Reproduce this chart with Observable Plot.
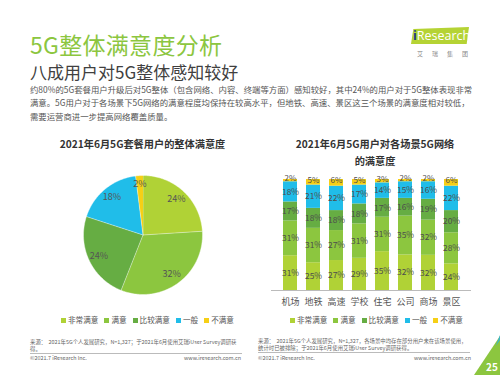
<!DOCTYPE html>
<html><head><meta charset="utf-8">
<script src="https://cdn.jsdelivr.net/npm/d3@7"></script>
<script src="https://cdn.jsdelivr.net/npm/@observablehq/plot@0.6"></script>
<style>
body{margin:0;width:500px;height:375px;background:#fff;position:relative;overflow:hidden;font-family:"Noto Sans CJK SC","Noto Sans",sans-serif;}
.abs{position:absolute;white-space:nowrap;}
.title{left:30px;top:27px;font-size:23px;color:#8cc63f;letter-spacing:0.3px;}
.sub{left:30px;top:59px;font-size:17px;color:#404040;}
.para{left:30px;top:83px;font-size:8.4px;line-height:13.3px;color:#555;}
.ctitle{font-size:10.2px;font-weight:bold;color:#333;text-align:center;line-height:17px;}
.legend{display:flex;gap:6px;font-size:7.6px;color:#555;align-items:center;top:314px;}
.legend span.sw{display:inline-block;width:5px;height:5px;margin-right:2px;vertical-align:middle;}
.foot{font-size:5.4px;color:#666;line-height:7px;}
.line{height:0;border-top:0.6px solid #bbb;}
</style></head>
<body>
<div class="abs title">5G整体满意度分析</div>
<div class="abs sub">八成用户对5G整体感知较好</div>
<div class="abs para">约80%的5G套餐用户升级后对5G整体（包含网络、内容、终端等方面）感知较好，其中24%的用户对于5G整体表现非常<br>满意。5G用户对于各场景下5G网络的满意程度均保持在较高水平，但地铁、高速、景区这三个场景的满意度相对较低，<br>需要运营商进一步提高网络覆盖质量。</div>

<div class="abs" style="left:411px;top:27px;width:58px;height:17px;background:#b5d334;clip-path:polygon(4% 12%,100% 0,96% 100%,0 100%);"></div>
<div class="abs" style="left:413px;top:27px;font-size:12.5px;color:#fff;font-family:'Open Sans',sans-serif;"><span style="color:#1f3a8a;font-weight:bold">i</span>Research</div>
<div class="abs" style="left:417px;top:49px;font-size:6px;color:#888;letter-spacing:9px;">艾瑞集团</div>

<div class="abs ctitle" style="left:40px;top:135px;width:205px;">2021年6月5G套餐用户的整体满意度</div>
<div class="abs ctitle" style="left:270px;top:135px;width:210px;">2021年6月5G用户对各场景5G网络<br>的满意度</div>

<div id="pie" class="abs" style="left:81px;top:172.5px;"></div>
<div id="bars" class="abs" style="left:270px;top:169px;"></div>

<div id="leg1" class="abs legend" style="left:61px;"></div>
<div id="leg2" class="abs legend" style="left:290px;"></div>

<div class="abs foot" style="left:30px;top:339px;">来源：&nbsp; 2021年5G个人发展研究，N=1,327；于2021年6月使用艾瑞iUser Survey调研获<br>得。</div>
<div class="abs line" style="left:30px;top:353px;width:212px;"></div>
<div class="abs foot" style="left:30px;top:355px;">©2021.7 iResearch Inc.</div>
<div class="abs foot" style="left:184px;top:355px;">www.iresearch.com.cn</div>

<div class="abs foot" style="left:258px;top:338px;">来源：&nbsp; 2021年5G个人发展研究，N=1,327，各场景中均存在部分用户未在该场景使用，<br>统计时已被排除；于2021年6月使用艾瑞iUser Survey调研获得。</div>
<div class="abs line" style="left:258px;top:352px;width:212px;"></div>
<div class="abs foot" style="left:258px;top:355px;">©2021.7 iResearch Inc.</div>
<div class="abs foot" style="left:414px;top:355px;">www.iresearch.com.cn</div>

<div class="abs" style="left:474px;top:336px;width:26px;height:39px;background:#8cc63f;clip-path:polygon(100% 0,100% 100%,0 100%);"></div>
<div class="abs" style="left:478px;top:330px;width:22px;height:20px;background:#3bb4c8;clip-path:polygon(100% 25%,100% 50%,80% 80%);"></div>
<div class="abs" style="left:486px;top:359px;font-size:10px;color:#fff;font-weight:bold;">25</div>

<script>
const levels = ["非常满意","满意","比较满意","一般","不满意"];
const colors = ["#b0d236","#8cc63f","#66ad43","#20bde9","#f6cf16"];

// Pie: overall satisfaction (%)
const pieValues = [24, 32, 24, 18, 2];

// Bars: scenarios
const scenes = ["机场","地铁","高速","学校","住宅","公司","商场","景区"];
const veryS   = [31, 25, 27, 29, 35, 32, 32, 24];
const sat     = [31, 31, 27, 31, 31, 35, 32, 28];
const fairly  = [17, 18, 18, 18, 17, 16, 19, 20];
const normal  = [18, 21, 22, 17, 14, 15, 16, 22];
const unsat   = [2, 5, 6, 5, 3, 2, 2, 6];
const series = [veryS, sat, fairly, normal, unsat];

const color = {domain: levels, range: colors};

// ---- Pie ----
const pie = d3.pie().sort(null).startAngle(0).endAngle(2*Math.PI)(pieValues);
const piePts = [];
const pieLabels = [];
pie.forEach((s, i) => {
  piePts.push({level: levels[i], x: 0, y: 0});
  const n = Math.max(2, Math.ceil((s.endAngle - s.startAngle) / 0.02));
  for (let k = 0; k <= n; k++) {
    const a = s.startAngle + (s.endAngle - s.startAngle) * k / n;
    piePts.push({level: levels[i], x: Math.sin(a), y: Math.cos(a)});
  }
  const m = (s.startAngle + s.endAngle) / 2;
  const r = i === 4 ? 0.85 : 0.82;
  pieLabels.push({x: r*Math.sin(m), y: r*Math.cos(m), text: pieValues[i] + "%"});
});
const R = 59.5, pm = 2;
document.getElementById("pie").append(Plot.plot({
  width: 2*R + 2*pm, height: 2*R + 2*pm,
  margin: pm,
  x: {domain: [-1, 1], axis: null},
  y: {domain: [-1, 1], axis: null},
  color,
  style: {background: "transparent", fontFamily: "'Noto Sans CJK SC', sans-serif"},
  marks: [
    Plot.line(piePts, {x: "x", y: "y", z: "level", fill: "level", stroke: "#fff", strokeWidth: 0.4, curve: "linear"}),
    Plot.text(pieLabels, {x: "x", y: "y", text: "text", fill: "#555", fontSize: 9})
  ]
}));

// ---- Bars ----
const barData = [];
levels.forEach((lv, i) => scenes.forEach((sc, j) => barData.push({scene: sc, level: lv, value: series[i][j]})));
const stackOpts = {x: "scene", y: "value", z: "level", order: levels, offset: "normalize"};
const topLevel = "不满意";
document.getElementById("bars").append(Plot.plot({
  width: 205, height: 141,
  marginLeft: 1, marginRight: 4, marginTop: 10, marginBottom: 20,
  x: {domain: scenes, padding: 0.37, label: null, tickSize: 0, tickPadding: 8},
  y: {axis: null},
  color,
  style: {background: "transparent", fontSize: "9px", color: "#555", fontFamily: "'Noto Sans CJK SC', sans-serif", overflow: "visible"},
  marks: [
    Plot.barY(barData, Plot.stackY({...stackOpts, fill: "level"})),
    Plot.text(barData, Plot.stackY({...stackOpts, text: d => d.level !== topLevel ? d.value + "%" : "", fill: "#4d4d4d", fontSize: 8.4})),
    Plot.text(barData, Plot.stackY({...stackOpts, text: d => d.level === topLevel ? d.value + "%" : "", fill: "#4d4d4d", fontSize: 8, dy: -2})),
    Plot.ruleY([0], {stroke: "#bbb"})
  ]
}));

// ---- Legends ----
function legend(id) {
  const el = document.getElementById(id);
  levels.forEach((lv, i) => {
    const d = document.createElement("div");
    d.innerHTML = `<span class="sw" style="background:${colors[i]}"></span>${lv}`;
    el.append(d);
  });
}
legend("leg1"); legend("leg2");
</script>
</body></html>
